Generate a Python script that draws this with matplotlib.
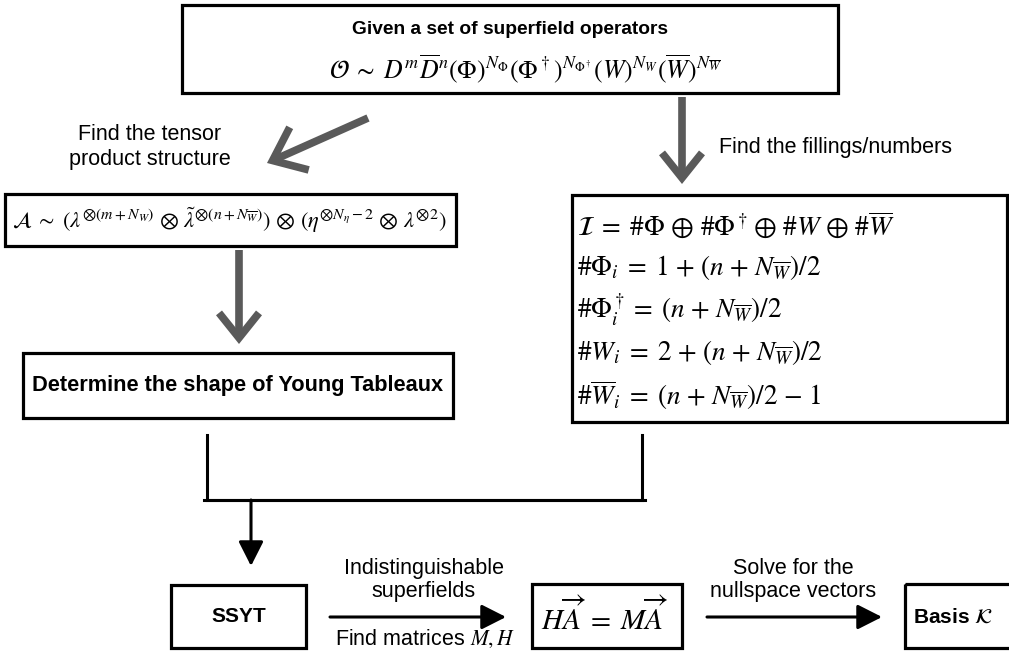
import matplotlib
matplotlib.use('Agg')
import matplotlib.pyplot as plt
from matplotlib.patches import Rectangle, FancyArrowPatch

plt.rcParams['font.family'] = ['Liberation Sans', 'DejaVu Sans']
plt.rcParams['mathtext.fontset'] = 'stix'

# spacing helpers for the TeX-like formulas
SP = r'\hspace{0.33}'
EQ = r'\hspace{0.28}{=}\hspace{0.28}'
BACK = r'\hspace{-0.2}'

# texts of the flowchart
title_text = 'Given a set of superfield operators'
operator_eq = (r'$\mathcal{O}\;\sim\;D^m\overline{D}^n(\Phi)^{N_\Phi}(\Phi^\dagger)^{N_{\Phi^\dagger}}'
               r'(W)^{N_W}(\overline{W})^{N_{\overline{W}}}$')
left_label = 'Find the tensor\nproduct structure'
right_label = 'Find the fillings/numbers'
tensor_eq = (r'$\mathcal{A}\;\sim\;(\lambda^{\otimes(m+N_W)}' + SP + r'{\otimes}' + SP +
             r'\tilde{\lambda}^{\otimes(n+N_{\overline{W}})})' + SP + r'{\otimes}' + SP +
             r'(\eta^{\otimes N_\eta-2}' + SP + r'{\otimes}' + SP + r'\lambda^{\otimes 2})$')
# '#' is set as plain (serif) text between the math pieces
filling_eqs = [
    r'$\mathcal{I}' + EQ + '$#$\\Phi' + SP + r'{\oplus}' + SP + '$#$\\Phi^\\dagger' + BACK + SP +
    r'{\oplus}' + SP + '$#$W' + SP + r'{\oplus}' + SP + r'$#$\overline{W}$',
    r'#$\Phi_i' + EQ + '1' + SP + '{+}' + SP + '(n' + SP + '{+}' + SP + r'N_{\overline{W}})/2$',
    r'#$\Phi_i^\dagger' + BACK + EQ + '(n' + SP + '{+}' + SP + r'N_{\overline{W}})/2$',
    r'#$W_i' + EQ + '2' + SP + '{+}' + SP + '(n' + SP + '{+}' + SP + r'N_{\overline{W}})/2$',
    r'#$\overline{W}_i' + EQ + '(n' + SP + '{+}' + SP + r'N_{\overline{W}})/2' + SP + '{-}' + SP + '1$',
]
young_text = 'Determine the shape of Young Tableaux'
ssyt_text = 'SSYT'
arrow1_top = 'Indistinguishable\nsuperfields'
arrow1_bottom = r'Find matrices $M, H$'
matrix_eq = r'$H\overrightarrow{A}' + EQ + r'M\overrightarrow{A}$'
arrow2_top = 'Solve for the\nnullspace vectors'
basis_text = r'Basis $\mathcal{K}$'

W, H = 1009, 669
fig = plt.figure(figsize=(W / 100, H / 100), dpi=100)
ax = fig.add_axes([0, 0, 1, 1])
ax.set_xlim(0, W)
ax.set_ylim(H, 0)
ax.axis('off')

grey = '#5a5a5a'


def box(x0, y0, x1, y1):
    ax.add_patch(Rectangle((x0, y0), x1 - x0, y1 - y0, fill=False,
                           ec='black', lw=2.3))


def grey_arrow(p0, p1, scale=24):
    ax.add_patch(FancyArrowPatch(p0, p1, arrowstyle='->,head_length=0.75,head_width=0.6',
                                 mutation_scale=scale, color=grey, lw=5.5,
                                 shrinkA=0, shrinkB=0, joinstyle='miter', capstyle='butt'))


def black_arrow(p0, p1):
    ax.add_patch(FancyArrowPatch(p0, p1, arrowstyle='-|>,head_length=0.75,head_width=0.38',
                                 mutation_scale=20, color='black', lw=2.2,
                                 shrinkA=0, shrinkB=0))


# top box
box(182, 5, 838, 93)
ax.text(510, 30, title_text, ha='center', va='center', fontsize=13.8, fontweight='bold')
ax.text(525, 69, operator_eq, ha='center', va='center', fontsize=18.5)

# arrows from top
grey_arrow((368, 118), (267, 163), scale=28)
grey_arrow((682, 97), (682, 184))
ax.text(150, 147, left_label, ha='center', va='center', fontsize=15.5, linespacing=1.2)
ax.text(719, 148, right_label, ha='left', va='center', fontsize=15.5)

# tensor product box
box(5, 194, 456, 246)
ax.text(12, 220, tensor_eq, ha='left', va='center', fontsize=16.2)

grey_arrow((239, 250), (239, 344))

# Young tableaux box
box(23, 353, 453, 418)
ax.text(238, 386, young_text, ha='center', va='center', fontsize=15.7, fontweight='bold')

# fillings box
box(572, 195, 1007, 422)
for i, eq in enumerate(filling_eqs):
    ax.text(577, 225 + i * 42.5, eq, ha='left', va='center', fontsize=19.5,
            family='STIXGeneral')

# bracket joining the two branches
ax.plot([207, 207, 642, 642], [435, 500, 500, 435], color='black', lw=2.2,
        solid_joinstyle='miter')
ax.plot([204, 645], [500, 500], color='black', lw=2.2)
black_arrow((251, 500), (251, 566))

# bottom row
box(171, 585, 306, 648)
ax.text(239, 617, ssyt_text, ha='center', va='center', fontsize=15, fontweight='bold')
black_arrow((330, 617), (506, 617))
ax.text(424, 580, arrow1_top, ha='center', va='center', fontsize=15.5, linespacing=1.15)
ax.text(425, 639, arrow1_bottom, ha='center', va='center', fontsize=15.5)

box(532, 584, 682, 648)
ax.text(605, 617, matrix_eq, ha='center', va='center', fontsize=21)

black_arrow((707, 617), (882, 617))
ax.text(793, 580, arrow2_top, ha='center', va='center', fontsize=15.5, linespacing=1.15)

box(905, 584, 1012, 648)
ax.text(913, 617, basis_text, ha='left', va='center', fontsize=15, fontweight='bold')

fig.savefig('out.png', dpi=100)
